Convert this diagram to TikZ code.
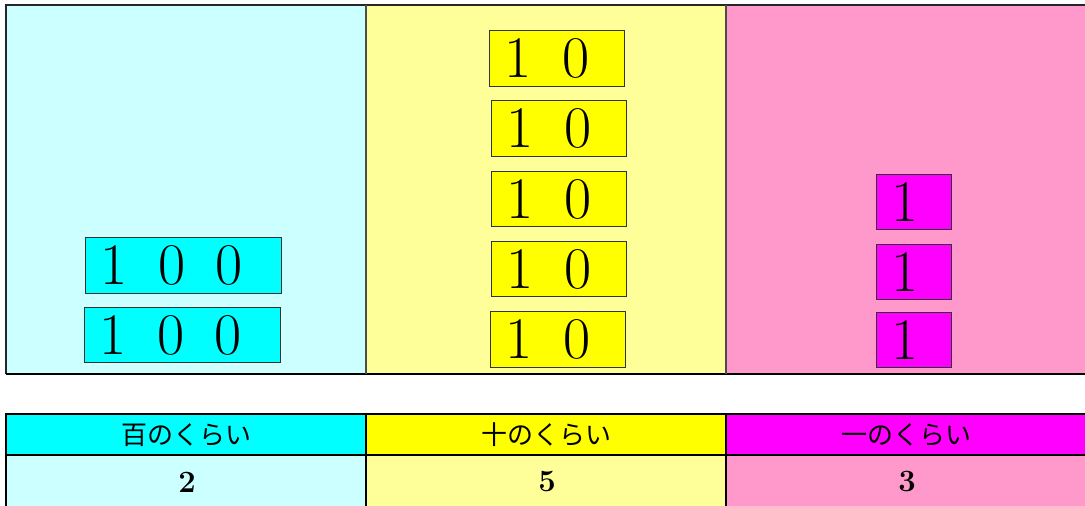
\documentclass[tikz,border=0pt]{standalone}
\usepackage{fontspec}
\newfontfamily\jpfont{Noto Sans CJK JP}
\definecolor{lcyan}{HTML}{CCFFFF}
\definecolor{lyellow}{HTML}{FFFF99}
\definecolor{lpink}{HTML}{FF99CC}
\definecolor{hcyan}{HTML}{00FFFF}
\definecolor{hyellow}{HTML}{FFFF00}
\definecolor{hmagenta}{HTML}{FF00FF}
\newcommand\dg[1]{\makebox[57.5pt]{#1}}
\tikzset{
  tile/.style={draw=black!80, line width=1pt, anchor=north west, inner sep=0pt,
    align=left, font=\fontsize{59}{60}\selectfont},
  head/.style={font=\jpfont\fontsize{26}{26}\selectfont, inner sep=0pt},
  val/.style={font=\fontsize{31}{31}\selectfont\bfseries, inner sep=0pt},
  frame/.style={line width=2pt, black},
  divider/.style={line width=1.5pt, black!70}
}
\begin{document}
\begin{tikzpicture}[x=1pt,y=-1pt]
\useasboundingbox (0,0) rectangle (1085,506);
\clip (0,0) rectangle (1085,506);
% top panel
\fill[lcyan] (6,5) rectangle (366,374);
\fill[lyellow] (366,5) rectangle (726,374);
\fill[lpink] (726,5) rectangle (1095,374);
\draw[frame, black!85] (1095,5) -- (6,5) -- (6,374);
\draw[frame] (6,374) -- (1095,374);
\draw[divider] (366,5) -- (366,374);
\draw[divider] (726,5) -- (726,374);
% hundreds
\node[tile, fill=hcyan, text width=196pt, minimum width=196pt, minimum height=56pt] (h1) at (85,237) {\dg{1}\dg{0}\dg{0}};
\node[tile, fill=hcyan, text width=196pt, minimum width=196pt, minimum height=55pt] (h2) at (84,307) {\dg{1}\dg{0}\dg{0}};
% tens
\node[tile, fill=hyellow, text width=135pt, minimum width=135pt, minimum height=56pt] (t1) at (489,30) {\dg{1}\dg{0}};
\node[tile, fill=hyellow, text width=135pt, minimum width=135pt, minimum height=56pt] (t2) at (491,100) {\dg{1}\dg{0}};
\node[tile, fill=hyellow, text width=135pt, minimum width=135pt, minimum height=55pt] (t3) at (491,171) {\dg{1}\dg{0}};
\node[tile, fill=hyellow, text width=135pt, minimum width=135pt, minimum height=55pt] (t4) at (491,241) {\dg{1}\dg{0}};
\node[tile, fill=hyellow, text width=135pt, minimum width=135pt, minimum height=56pt] (t5) at (490,311) {\dg{1}\dg{0}};
% ones
\node[tile, fill=hmagenta, text width=75pt, minimum width=75pt, minimum height=55pt] (o1) at (876,174) {\dg{1}};
\node[tile, fill=hmagenta, text width=75pt, minimum width=75pt, minimum height=55pt] (o2) at (876,244) {\dg{1}};
\node[tile, fill=hmagenta, text width=75pt, minimum width=75pt, minimum height=55pt] (o3) at (876,312) {\dg{1}};
% table
\fill[hcyan] (6,414) rectangle (366,455);
\fill[hyellow] (366,414) rectangle (726,455);
\fill[hmagenta] (726,414) rectangle (1095,455);
\fill[lcyan] (6,455) rectangle (366,510);
\fill[lyellow] (366,455) rectangle (726,510);
\fill[lpink] (726,455) rectangle (1095,510);
\draw[frame] (1095,414) -- (6,414) -- (6,510);
\draw[frame] (6,455) -- (1095,455);
\draw[frame] (366,414) -- (366,510);
\draw[frame] (726,414) -- (726,510);
\node[head] (ch1) at (186,435) {百のくらい};
\node[head] (ch2) at (546,435) {十のくらい};
\node[head] (ch3) at (906,435) {一のくらい};
\node[val] (v1) at (187,482) {2};
\node[val] (v2) at (547,482) {5};
\node[val] (v3) at (907,482) {3};
\end{tikzpicture}
\end{document}
